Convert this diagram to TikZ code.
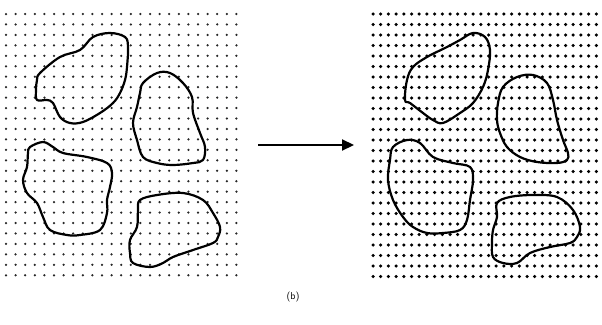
\documentclass[tikz,border=0pt]{standalone}
\usetikzlibrary{arrows.meta}
\begin{document}
\begin{tikzpicture}[x=1pt,y=-1pt,
  grain/.style={draw=black,line width=2.2pt,line join=round},
  dotsmall/.style={fill=black!85},
  dotbig/.style={fill=black},
  bigarrow/.style={draw=black,line width=2.2pt,-{Triangle[length=12pt,width=11pt]}},
  caption/.style={font=\sffamily,inner sep=0pt}]
\useasboundingbox (0,0) rectangle (602,324);
% left panel dots
\foreach \i in {0,...,24}{
  \foreach \j in {0,...,25}{
    \fill[dotsmall] ({6+9.6*\i},{14+10.45*\j}) circle (1.25pt);
  }
}
% right panel dots
\foreach \i in {0,...,29}{
  \foreach \j in {0,...,25}{
    \fill[dotbig] ({373+7.7*\i},{14+10.5*\j}) circle (1.75pt);
  }
}
% left grains
\draw[grain] plot[smooth cycle,tension=0.6] coordinates {
 (37,80) (40,73) (60,57) (80,50) (93,37) (110,33) (125,37) (128,47) (127,67)
 (125,80) (120,93) (113,103) (100,113) (83,122) (70,123) (60,117) (53,103)
 (47,100) (37,100) (36,90)};
\draw[grain] plot[smooth cycle,tension=0.6] coordinates {
 (30,147) (43,142) (53,147) (63,153) (87,157) (107,163) (112,173) (110,187)
 (107,200) (107,213) (100,230) (80,235) (67,235) (50,230) (43,217) (37,203)
 (27,193) (23,180) (27,167) (28,153)};
\draw[grain] plot[smooth cycle,tension=0.6] coordinates {
 (143,83) (157,73) (170,73) (183,83) (192,97) (193,113) (200,133) (205,147)
 (203,160) (193,163) (173,165) (157,163) (143,157) (137,140) (133,123)
 (137,107) (140,93)};
\draw[grain] plot[smooth cycle,tension=0.6] coordinates {
 (140,200) (157,195) (183,193) (203,200) (213,213) (220,227) (218,237)
 (213,243) (193,250) (173,257) (163,263) (150,267) (133,263) (130,253)
 (130,240) (137,227) (138,210)};
% right grains
\draw[grain] plot[smooth cycle,tension=0.6] coordinates {
 (405,100) (407,80) (413,67) (427,57) (447,47) (460,40) (473,33) (485,37)
 (490,50) (488,70) (483,87) (473,103) (460,113) (443,123) (433,120)
 (423,113) (410,103)};
\draw[grain] plot[smooth cycle,tension=0.6] coordinates {
 (393,147) (407,140) (420,143) (433,157) (453,163) (470,167) (473,180)
 (470,200) (467,220) (460,230) (443,233) (427,233) (413,227) (403,217)
 (393,200) (388,180) (390,160)};
\draw[grain] plot[smooth cycle,tension=0.6] coordinates {
 (503,87) (517,77) (533,75) (547,83) (553,100) (557,120) (563,140) (568,153)
 (567,160) (557,163) (537,162) (520,157) (507,147) (500,133) (497,120)
 (498,103)};
\draw[grain] plot[smooth cycle,tension=0.6] coordinates {
 (497,203) (510,197) (533,195) (557,197) (573,210) (580,227) (577,237)
 (570,243) (550,247) (530,253) (517,263) (503,263) (493,257) (492,243)
 (493,230) (497,217)};
% arrow
\coordinate (arrowstart) at (258,145);
\coordinate (arrowend) at (354,145);
\draw[bigarrow] (arrowstart) -- (arrowend);
% caption
\node[caption] (label) at (293,297) {(b)};
\end{tikzpicture}
\end{document}
